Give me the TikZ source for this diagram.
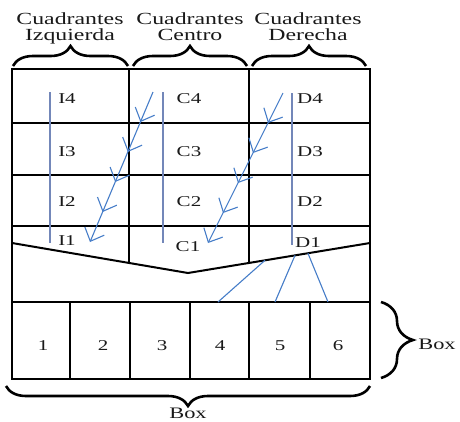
\documentclass[tikz,border=0pt]{standalone}
\usepackage{fontspec}
\setmainfont{Liberation Serif}
\usetikzlibrary{decorations.pathreplacing,decorations.markings,arrows.meta,calc}
\definecolor{vcol}{RGB}{115,135,185}
\definecolor{acol}{RGB}{70,125,200}
\definecolor{tcol}{RGB}{25,25,25}
\newcommand{\stx}[1]{\scalebox{1.4}[1]{#1}}
\tikzset{
  frame/.style={line width=2pt, black},
  vguide/.style={line width=1.3pt, vcol},
  fish/.style={line width=1.1pt, acol,
    -{Straight Barb[length=11pt,width=21pt]},
    postaction={decorate, decoration={markings,
      mark=at position 0.2 with {\arrow{Straight Barb[length=11pt,width=21pt]}},
      mark=at position 0.4 with {\arrow{Straight Barb[length=11pt,width=21pt]}},
      mark=at position 0.6 with {\arrow{Straight Barb[length=11pt,width=21pt]}},
      mark=at position 0.8 with {\arrow{Straight Barb[length=11pt,width=21pt]}}}}},
  feed/.style={line width=1.1pt, acol},
  brc/.style={decorate, decoration={brace, amplitude=#1}, line width=2.6pt, black},
  lbl/.style={anchor=base, inner sep=0pt, text=tcol, font=\fontsize{15}{15}\selectfont},
  head/.style={anchor=base, inner sep=0pt, text=tcol, font=\fontsize{17}{17}\selectfont},
}
\begin{document}
\begin{tikzpicture}[x=1pt,y=-1pt]
\useasboundingbox (0,0) rectangle (460,421);
% frame coordinates
\coordinate (TL) at (12,69);
\coordinate (TR) at (370,69);
\coordinate (BL) at (12,379);
\coordinate (BR) at (370,379);
\coordinate (R1l) at (12,123);  \coordinate (R1r) at (370,123);
\coordinate (R2l) at (12,175);  \coordinate (R2r) at (370,175);
\coordinate (R3l) at (12,226);  \coordinate (R3r) at (370,226);
\coordinate (Vl) at (12,243);   \coordinate (Vm) at (188,273);  \coordinate (Vr) at (370,243);
\coordinate (C1t) at (129,69);  \coordinate (C1b) at (129,263);
\coordinate (C2t) at (249,69);  \coordinate (C2b) at (249,263);
\coordinate (Ml) at (12,302);   \coordinate (Mr) at (370,302);
\foreach \x [count=\i] in {70,130,190,249,310}{
  \coordinate (Bt\i) at (\x,302);
  \coordinate (Bb\i) at (\x,379);
}
% frame
\draw[frame] (TL) rectangle (BR);
\draw[frame] (R1l) -- (R1r);
\draw[frame] (R2l) -- (R2r);
\draw[frame] (R3l) -- (R3r);
\draw[frame] (Vl) -- (Vm) -- (Vr);
\draw[frame] (C1t) -- (C1b);
\draw[frame] (C2t) -- (C2b);
\draw[frame] (Ml) -- (Mr);
\foreach \i in {1,...,5}{ \draw[frame] (Bt\i) -- (Bb\i); }
% vertical guides
\coordinate (Gi1) at (50,92);  \coordinate (Gi2) at (50,243);
\coordinate (Gc1) at (163,92); \coordinate (Gc2) at (163,243);
\coordinate (Gd1) at (292,93); \coordinate (Gd2) at (292,245);
\draw[vguide] (Gi1) -- (Gi2);
\draw[vguide] (Gc1) -- (Gc2);
\draw[vguide] (Gd1) -- (Gd2);
% fishbone arrows
\coordinate (A1s) at (153,92);  \coordinate (A1e) at (90,242);
\coordinate (A2s) at (283,93);  \coordinate (A2e) at (208,243);
\draw[fish] (A1s) -- (A1e);
\draw[fish] (A2s) -- (A2e);
% feed lines
\coordinate (F1s) at ($(Vm)!0.423!(Vr)$); \coordinate (F1e) at (218,302);
\coordinate (F2s) at ($(Vm)!0.588!(Vr)$); \coordinate (F2e) at (275,302);
\coordinate (F3s) at ($(Vm)!0.659!(Vr)$); \coordinate (F3e) at (328,302);
\draw[feed] (F1s) -- (F1e);
\draw[feed] (F2s) -- (F2e);
\draw[feed] (F3s) -- (F3e);
% cell labels
\node[lbl] (I4) at (67,103) {\stx{I4}};
\node[lbl] (I3) at (67,156) {\stx{I3}};
\node[lbl] (I2) at (67,206) {\stx{I2}};
\node[lbl] (I1) at (67,245) {\stx{I1}};
\node[lbl] (C4) at (189,103) {\stx{C4}};
\node[lbl] (C3) at (189,156) {\stx{C3}};
\node[lbl] (C2) at (189,206) {\stx{C2}};
\node[lbl] (C1) at (188,251) {\stx{C1}};
\node[lbl] (D4) at (310,103) {\stx{D4}};
\node[lbl] (D3) at (310,156) {\stx{D3}};
\node[lbl] (D2) at (310,206) {\stx{D2}};
\node[lbl] (D1) at (308,247) {\stx{D1}};
% box numbers
\foreach \x [count=\i] in {43,103,162,220,280,338}{
  \node[lbl] (n\i) at (\x,350) {\stx{\i}};
}
% headers
\node[head] (h1a) at (70,24) {\stx{Cuadrantes}};
\node[head] (h1b) at (70,40) {\stx{Izquierda}};
\node[head] (h2a) at (190,24) {\stx{Cuadrantes}};
\node[head] (h2b) at (190,40) {\stx{Centro}};
\node[head] (h3a) at (308,24) {\stx{Cuadrantes}};
\node[head] (h3b) at (308,40) {\stx{Derecha}};
% braces
\coordinate (b1a) at (13,66);  \coordinate (b1b) at (128,66);
\coordinate (b2a) at (133,66); \coordinate (b2b) at (247,66);
\coordinate (b3a) at (252,66); \coordinate (b3b) at (366,66);
\draw[brc=20pt] (b1a) -- (b1b);
\draw[brc=20pt] (b2a) -- (b2b);
\draw[brc=20pt] (b3a) -- (b3b);
\coordinate (rba) at (381,302); \coordinate (rbb) at (381,378);
\draw[brc=32pt] (rba) -- (rbb);
\coordinate (bba) at (370,386); \coordinate (bbb) at (6,386);
\draw[brc=20pt] (bba) -- (bbb);
\node[lbl, font=\fontsize{16}{16}\selectfont] (boxR) at (437,349) {\stx{Box}};
\node[lbl, font=\fontsize{16}{16}\selectfont] (boxB) at (188,418) {\stx{Box}};
\end{tikzpicture}
\end{document}
